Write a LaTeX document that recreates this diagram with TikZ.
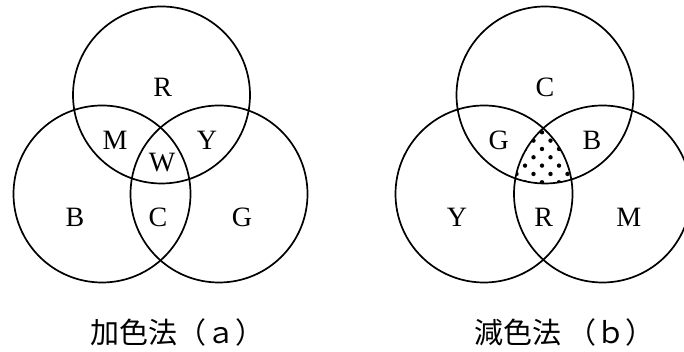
\documentclass[tikz,border=0pt]{standalone}
\usepackage{fontspec}
\setmainfont{Liberation Serif}
\newfontfamily\cjkfont{Noto Sans CJK JP}
\usepackage{tikz}
\usetikzlibrary{positioning,calc}

\tikzset{
    ring/.style={line width=0.85pt},
    lbl/.style={font=\fontsize{14}{16}\selectfont,inner sep=0pt},
    capt/.style={font=\cjkfont\fontsize{14.5}{17}\selectfont,inner sep=0pt}
}

\begin{document}
\begin{tikzpicture}[x=0.5pt,y=0.5pt]
    \useasboundingbox (0,0) rectangle (684,352);
    % additive mixing
    \coordinate (aT) at (161.5,257);
    \coordinate (aL) at (102,158);
    \coordinate (aR) at (219,158);
    \foreach \c in {aT,aL,aR} \draw[ring] (\c) circle[radius=44.25pt];
    \node[lbl] (aRed) at (162.7,265) {R};
    \node[lbl] (aMag) at (115,212) {M};
    \node[lbl] (aYel) at (207,212) {Y};
    \node[lbl] (aWht) at (162,189) {W};
    \node[lbl] (aBlu) at (75,135) {B};
    \node[lbl] (aCya) at (158,135) {C};
    \node[lbl] (aGrn) at (242,135) {G};
    \node[capt,anchor=west] (aCap) at (90,20) {加色法（ａ）};
    % subtractive mixing
    \coordinate (sT) at (545,257);
    \coordinate (sL) at (484,158);
    \coordinate (sR) at (602.5,158);
    \foreach \c in {sT,sL,sR} \draw[ring] (\c) circle[radius=44.25pt];
    \begin{scope}
        \clip (sT) circle[radius=44.25pt];
        \clip (sL) circle[radius=44.25pt];
        \clip (sR) circle[radius=44.25pt];
        \foreach \r in {0,...,6}
            \foreach \k in {-4,...,4}
                \fill ({542-8.5*mod(\r,2)+17*\k},{352-132.3-8.33*\r}) circle[radius=1.1pt];
    \end{scope}
    \node[lbl] (sCya) at (545,265) {C};
    \node[lbl] (sGrn) at (498.7,212) {G};
    \node[lbl] (sBlu) at (592,212) {B};
    \node[lbl] (sYel) at (457,135) {Y};
    \node[lbl] (sRed) at (543.7,135) {R};
    \node[lbl] (sMag) at (628.7,135) {M};
    \node[capt,anchor=west] (sCap) at (474,20) {減色法 （ｂ）};
\end{tikzpicture}
\end{document}
